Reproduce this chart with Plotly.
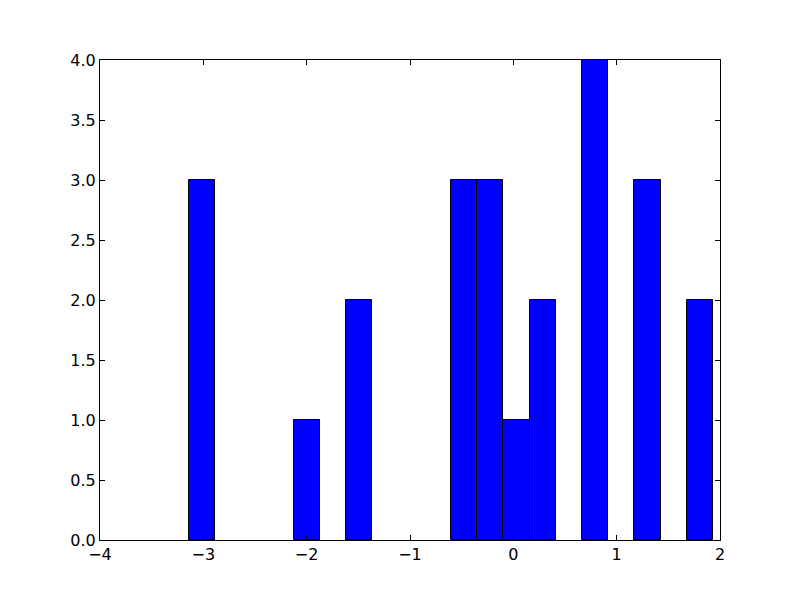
import numpy as np
import plotly.graph_objects as go

# Histogram: 20 equal bins between data min and max
bin_lo = -3.139
bin_hi = 1.932
counts = [3, 0, 0, 0, 1, 0, 2, 0, 0, 0, 3, 3, 1, 2, 0, 4, 0, 3, 0, 2]
x_ticks = [-4, -3, -2, -1, 0, 1, 2]
y_ticks = [0.0, 0.5, 1.0, 1.5, 2.0, 2.5, 3.0, 3.5, 4.0]

edges = np.linspace(bin_lo, bin_hi, len(counts) + 1)
centers = (edges[:-1] + edges[1:]) / 2
widths = np.diff(edges)
y_plot = [c if c > 0 else None for c in counts]

fig = go.Figure(go.Bar(
    x=centers, y=y_plot, width=widths,
    marker=dict(color="#0000ff", line=dict(color="black", width=1)),
    cliponaxis=False,
))

axis_common = dict(
    showgrid=False, zeroline=False, showline=True, linecolor="black", linewidth=1,
    mirror="allticks", ticks="inside", ticklen=5, tickcolor="black", tickwidth=1,
    tickfont=dict(family="DejaVu Sans", size=16, color="black"),
)
fig.update_xaxes(range=[-4, 2], tickvals=x_ticks,
                 ticktext=[("\u2212" if v < 0 else "") + str(abs(v)) for v in x_ticks], **axis_common)
fig.update_yaxes(range=[0, 4], tickvals=y_ticks,
                 ticktext=[f"{v:.1f}" for v in y_ticks], **axis_common)

fig.update_layout(
    width=800, height=600,
    margin=dict(l=92, r=88, t=52, b=68),
    plot_bgcolor="white", paper_bgcolor="white",
    showlegend=False, bargap=0,
)
fig.write_html("out.html")
